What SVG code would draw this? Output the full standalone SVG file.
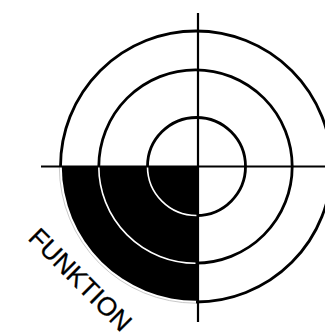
<svg xmlns="http://www.w3.org/2000/svg" width="325" height="336" viewBox="0 0 325 336">
<style>
.ring{fill:none;stroke:#000;stroke-width:2.8}
.wring{fill:none;stroke:#fff;stroke-width:1.6}
.axis{stroke:#000;stroke-width:2.2}
.lbl{font-family:"Liberation Sans",Arial,sans-serif;font-size:26px;fill:#000;stroke:#000;stroke-width:0.3}
</style>
<rect width="325" height="336" fill="#fff"/>
<g id="fill">
<path d="M197.5,166.5 L61.8,166.5 A134.2,134.2 0 0 0 197.5,300.7 Z" fill="#000"/>
</g>
<g id="outer">
<path class="ring" d="M60.5,166.5 A135.5,135.5 0 1 1 196,302"/>
<path d="M59.3,166.5 A136.7,136.7 0 0 0 196,303.2" fill="none" stroke="#bbb" stroke-width="0.8"/>
</g>
<g id="middle">
<path class="ring" d="M98.8,166.5 A96.7,96.7 0 1 1 195.5,263.2"/>
<path class="wring" d="M98.8,166.5 A96.7,96.7 0 0 0 195.5,263.2"/>
</g>
<g id="inner">
<path class="ring" d="M147.5,166.5 A49,49 0 1 1 196.5,215.5"/>
<path class="wring" d="M147.5,166.5 A49,49 0 0 0 196.5,215.5"/>
</g>
<g id="axes">
<line class="axis" x1="41" y1="166.5" x2="325" y2="166.5"/>
<line class="axis" x1="198" y1="13" x2="198" y2="322"/>
</g>
<g id="label">
<text class="lbl" transform="translate(27,239) rotate(45)">FUNKTION</text>
</g>
</svg>
